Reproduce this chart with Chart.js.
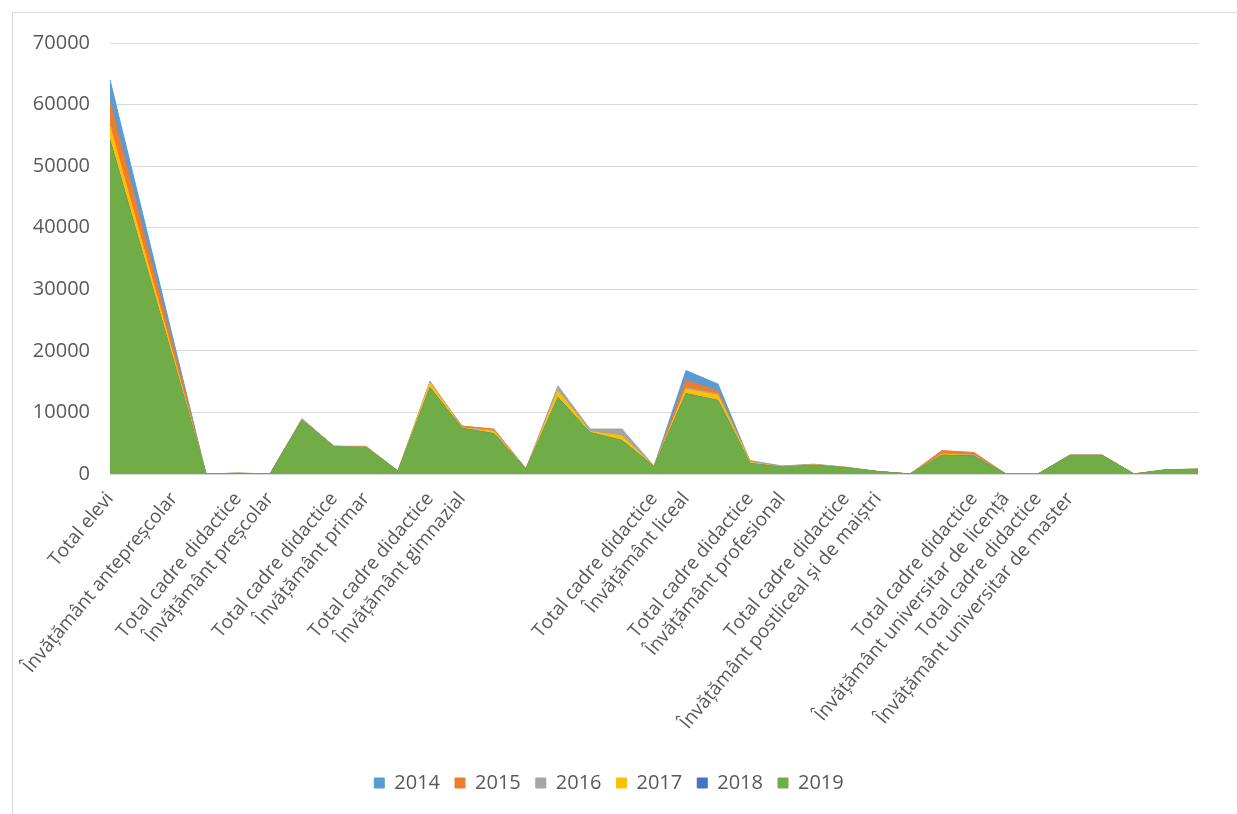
<!DOCTYPE html>
<html lang="ro">
<head>
    <meta charset="UTF-8">
    <title>Elevi și cadre didactice 2014-2019</title>
    <style>
        body {
            margin: 0;
            background: #fff;
        }

        .frame {
            position: absolute;
            left: 12px;
            top: 12px;
            width: 1225px;
            height: 802px;
            border-left: 1px solid #d9d9d9;
            border-top: 1px solid #d9d9d9;
        }

        .wrap {
            position: absolute;
            left: 0;
            top: 0;
            width: 1237px;
            height: 814px;
        }
    </style>
    <script src="https://cdn.jsdelivr.net/npm/chart.js"></script>
</head>
<body>
    <div class="frame"></div>
    <div class="wrap"><canvas id="chart"></canvas></div>

    <script>
        // category labels (blank where the axis shows nothing)
        const categories = [
            'Total elevi', '', 'Învățământ antepreșcolar', '', 'Total cadre didactice',
            'Învățământ preșcolar', '', 'Total cadre didactice', 'Învățământ primar', '',
            'Total cadre didactice', 'Învățământ gimnazial', '', '', '',
            '', '', 'Total cadre didactice', 'Învățământ liceal', '',
            'Total cadre didactice', 'Învățământ profesional', '', 'Total cadre didactice', 'Învățământ postliceal și de maiștri',
            '', '', 'Total cadre didactice', 'Învățământ universitar de licență', 'Total cadre didactice',
            'Învățământ universitar de master', '', '', '', ''
        ];

        const years = ['2014', '2015', '2016', '2017', '2018', '2019'];

        const y2014 = [64000, 42700, 21300, 0, 120, 0, 8800, 4500, 4400, 500, 14800, 7600, 7000, 900, 13600, 7000, 6600, 1200, 16800, 14600, 2000, 1200, 1500, 1050, 380, 0, 3400, 3200, 0, 0, 3050, 3050, 0, 680, 780];
        const y2015 = [60500, 40300, 20200, 0, 140, 0, 8900, 4500, 4500, 480, 14900, 7800, 7300, 850, 13800, 7000, 6700, 1250, 15200, 13500, 2050, 1250, 1550, 1080, 390, 0, 3800, 3500, 0, 0, 3100, 3100, 0, 690, 790];
        const y2016 = [56000, 37300, 18700, 0, 160, 0, 9000, 4500, 4400, 470, 15100, 7500, 7100, 820, 14300, 7300, 7300, 1300, 14000, 13000, 2200, 1300, 1600, 1100, 400, 0, 3300, 3100, 0, 0, 3050, 3050, 0, 700, 800];
        const y2017 = [56500, 37600, 18800, 0, 100, 0, 8800, 4450, 4350, 460, 14800, 7500, 6900, 810, 13500, 6900, 6200, 1250, 13800, 12800, 1900, 1150, 1500, 1050, 380, 0, 3200, 3000, 0, 0, 3000, 3000, 0, 670, 770];
        const y2018 = [54200, 36100, 18050, 0, 70, 0, 8720, 4410, 4310, 452, 14000, 7420, 6550, 802, 12400, 6720, 5450, 1210, 13050, 11950, 1720, 1110, 1420, 1010, 400, 0, 3050, 2920, 0, 0, 3000, 3000, 0, 655, 755];
        const y2019 = [54000, 36000, 18000, 0, 60, 0, 8700, 4400, 4300, 450, 13900, 7400, 6500, 800, 12300, 6700, 5400, 1200, 13000, 11900, 1700, 1100, 1400, 1000, 400, 0, 3000, 2900, 0, 0, 3000, 3000, 0, 650, 750];

        const series = [y2014, y2015, y2016, y2017, y2018, y2019];
        const colors = ['#5b9bd5', '#ed7d31', '#a5a5a5', '#ffc000', '#4472c4', '#70ad47'];

        const textColor = '#595959';
        const fontFamily = "'Open Sans', sans-serif";

        // later years are painted over earlier ones, like the Excel area chart
        const datasets = years.map((year, i) => ({
            label: year,
            data: series[i],
            backgroundColor: colors[i],
            borderColor: colors[i],
            borderWidth: 1,
            fill: 'origin',
            pointRadius: 0,
            tension: 0,
            order: years.length - 1 - i
        }));

        new Chart(document.getElementById('chart'), {
            type: 'line',
            data: {
                labels: categories,
                datasets: datasets
            },
            options: {
                responsive: true,
                maintainAspectRatio: false,
                animation: false,
                layout: {
                    padding: { left: 20, right: 39, top: 43, bottom: 11 }
                },
                plugins: {
                    tooltip: { enabled: false },
                    legend: {
                        position: 'bottom',
                        labels: {
                            boxWidth: 10,
                            boxHeight: 10,
                            padding: 15,
                            color: textColor,
                            font: { family: fontFamily, size: 20 },
                            sort: (a, b) => a.datasetIndex - b.datasetIndex
                        }
                    }
                },
                scales: {
                    x: {
                        offset: false,
                        grid: { display: false },
                        border: { display: true, color: '#d9d9d9' },
                        ticks: {
                            autoSkip: false,
                            minRotation: 50,
                            maxRotation: 50,
                            padding: 6,
                            color: textColor,
                            font: { family: fontFamily, size: 19 }
                        },
                        afterFit: (scale) => { scale.height = 284; }
                    },
                    y: {
                        min: 0,
                        max: 70000,
                        border: { display: false },
                        grid: { color: '#d9d9d9', drawTicks: false },
                        ticks: {
                            stepSize: 10000,
                            padding: 20,
                            color: textColor,
                            font: { family: fontFamily, size: 20 },
                            callback: (value) => String(value)
                        },
                        afterFit: (scale) => { scale.width = 90; }
                    }
                }
            }
        });
    </script>
</body>
</html>
